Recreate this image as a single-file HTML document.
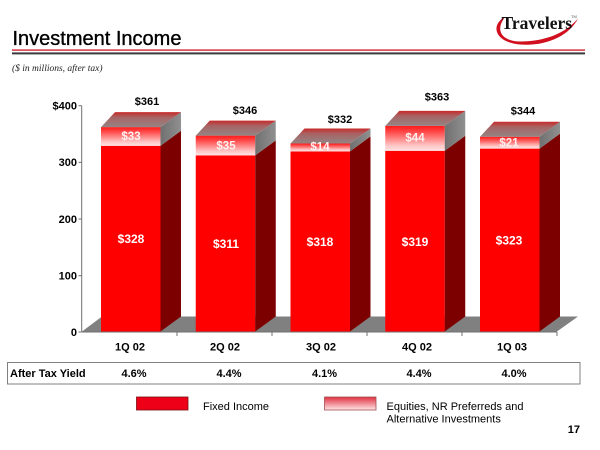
<!DOCTYPE html>
<html>
<head>
<meta charset="utf-8">
<style>
html,body{margin:0;padding:0;background:#fff;}
body{width:600px;height:450px;overflow:hidden;position:relative;}
svg{position:absolute;left:0;top:0;}
</style>
</head>
<body>
<svg width="600" height="450" viewBox="0 0 600 450" xmlns="http://www.w3.org/2000/svg">
<defs>
  <linearGradient id="eqFront" x1="0" y1="0" x2="0" y2="1">
    <stop offset="0" stop-color="#ff1a1a"/>
    <stop offset="0.25" stop-color="#ff4a4a"/>
    <stop offset="0.8" stop-color="#ffc8c8"/>
    <stop offset="1" stop-color="#ffe2e2"/>
  </linearGradient>
  <linearGradient id="eqTop" x1="0" y1="0" x2="0" y2="1">
    <stop offset="0" stop-color="#c82a2a"/>
    <stop offset="0.35" stop-color="#a86464"/>
    <stop offset="1" stop-color="#948484"/>
  </linearGradient>
  <linearGradient id="eqSide" x1="0" y1="0" x2="1" y2="0">
    <stop offset="0" stop-color="#707070"/>
    <stop offset="1" stop-color="#909090"/>
  </linearGradient>
  <linearGradient id="legEq" x1="0" y1="0" x2="0" y2="1">
    <stop offset="0" stop-color="#e03040"/>
    <stop offset="1" stop-color="#ffe6e6"/>
  </linearGradient>
</defs>

<!-- Title -->
<text x="12.5" y="45" font-family="Liberation Sans, Arial, sans-serif" font-size="20" fill="#000" stroke="#000" stroke-width="0.35">Investment Income</text>
<rect x="12" y="49.3" width="573" height="1.6" fill="#d8404e"/>
<rect x="12" y="52.4" width="573" height="2" fill="#3a3a3a"/>
<text x="12" y="71" font-family="Liberation Serif, serif" font-style="italic" font-size="9.5" fill="#222">($ in millions, after tax)</text>

<!-- Logo -->
<path d="M505 17 C491 24, 493 42, 520 44.5 C546 46.5, 569 36, 578 18.5 C566 33, 545 41.5, 520 41.5 C501 41, 495 30, 505 17 Z" fill="#d0101e"/>
<text x="501.5" y="29" font-family="Liberation Serif, serif" font-weight="bold" font-size="17.5" fill="#111">Travelers</text>
<text x="571" y="18" font-family="Liberation Sans, sans-serif" font-size="4" fill="#555">TM</text>

<!-- Floor -->
<polygon points="82,331.5 102,316.5 578,316.5 557,331.5" fill="#808080"/>

<!-- Bars -->
<g>
<rect x="101" y="145.8" width="59.5" height="185.7" fill="#ff0000"/>
<polygon points="160.5,145.8 181,130.8 181,316.5 160.5,331.5" fill="#7d0000"/>
<rect x="101" y="127.1" width="59.5" height="18.7" fill="url(#eqFront)"/>
<polygon points="160.5,127.1 181,112.1 181,130.8 160.5,145.8" fill="url(#eqSide)"/>
<polygon points="101,127.1 115,112.1 181,112.1 160.5,127.1" fill="url(#eqTop)"/>

<rect x="195.75" y="155.4" width="59.5" height="176.1" fill="#ff0000"/>
<polygon points="255.25,155.4 275.75,140.4 275.75,316.5 255.25,331.5" fill="#7d0000"/>
<rect x="195.75" y="135.6" width="59.5" height="19.8" fill="url(#eqFront)"/>
<polygon points="255.25,135.6 275.75,120.6 275.75,140.4 255.25,155.4" fill="url(#eqSide)"/>
<polygon points="195.75,135.6 209.75,120.6 275.75,120.6 255.25,135.6" fill="url(#eqTop)"/>

<rect x="290.5" y="151.4" width="59.5" height="180.1" fill="#ff0000"/>
<polygon points="350,151.4 370.5,136.4 370.5,316.5 350,331.5" fill="#7d0000"/>
<rect x="290.5" y="143.5" width="59.5" height="7.9" fill="url(#eqFront)"/>
<polygon points="350,143.5 370.5,128.5 370.5,136.4 350,151.4" fill="url(#eqSide)"/>
<polygon points="290.5,143.5 304.5,128.5 370.5,128.5 350,143.5" fill="url(#eqTop)"/>

<rect x="385.25" y="150.8" width="59.5" height="180.7" fill="#ff0000"/>
<polygon points="444.75,150.8 465.25,135.8 465.25,316.5 444.75,331.5" fill="#7d0000"/>
<rect x="385.25" y="125.9" width="59.5" height="24.9" fill="url(#eqFront)"/>
<polygon points="444.75,125.9 465.25,110.9 465.25,135.8 444.75,150.8" fill="url(#eqSide)"/>
<polygon points="385.25,125.9 399.25,110.9 465.25,110.9 444.75,125.9" fill="url(#eqTop)"/>

<rect x="480" y="148.6" width="59.5" height="182.9" fill="#ff0000"/>
<polygon points="539.5,148.6 560,133.6 560,316.5 539.5,331.5" fill="#7d0000"/>
<rect x="480" y="136.7" width="59.5" height="11.9" fill="url(#eqFront)"/>
<polygon points="539.5,136.7 560,121.7 560,133.6 539.5,148.6" fill="url(#eqSide)"/>
<polygon points="480,136.7 494,121.7 560,121.7 539.5,136.7" fill="url(#eqTop)"/>
</g>

<!-- Axes -->
<g stroke="#707070" stroke-width="1" fill="none">
  <line x1="81.7" y1="105.7" x2="81.7" y2="332"/>
  <line x1="78.5" y1="105.7" x2="81.7" y2="105.7"/>
  <line x1="78.5" y1="162.3" x2="81.7" y2="162.3"/>
  <line x1="78.5" y1="219" x2="81.7" y2="219"/>
  <line x1="78.5" y1="275.7" x2="81.7" y2="275.7"/>
  <line x1="78.5" y1="332" x2="81.7" y2="332"/>
  <line x1="81.7" y1="332" x2="557" y2="332"/>
  <line x1="177" y1="332" x2="177" y2="336"/>
  <line x1="272" y1="332" x2="272" y2="336"/>
  <line x1="367" y1="332" x2="367" y2="336"/>
  <line x1="462" y1="332" x2="462" y2="336"/>
  <line x1="557" y1="332" x2="557" y2="336"/>
</g>

<g font-family="Liberation Sans, Arial, sans-serif" font-weight="bold" font-size="11" fill="#000">
  <text x="77" y="109.6" text-anchor="end">$400</text>
  <text x="77" y="166.2" text-anchor="end">300</text>
  <text x="77" y="222.9" text-anchor="end">200</text>
  <text x="77" y="279.6" text-anchor="end">100</text>
  <text x="77" y="335.9" text-anchor="end">0</text>

  <text x="130" y="350.5" text-anchor="middle">1Q 02</text>
  <text x="225" y="350.5" text-anchor="middle">2Q 02</text>
  <text x="321" y="350.5" text-anchor="middle">3Q 02</text>
  <text x="417" y="350.5" text-anchor="middle">4Q 02</text>
  <text x="512" y="350.5" text-anchor="middle">1Q 03</text>

  <text x="147" y="105" text-anchor="middle">$361</text>
  <text x="245" y="114" text-anchor="middle">$346</text>
  <text x="340" y="123" text-anchor="middle">$332</text>
  <text x="437" y="100.7" text-anchor="middle">$363</text>
  <text x="523" y="114.7" text-anchor="middle">$344</text>
</g>

<g font-family="Liberation Sans, Arial, sans-serif" font-weight="bold" font-size="12" fill="#fff">
  <text x="131" y="243" text-anchor="middle">$328</text>
  <text x="226" y="248" text-anchor="middle">$311</text>
  <text x="320" y="246" text-anchor="middle">$318</text>
  <text x="415" y="246" text-anchor="middle">$319</text>
  <text x="509" y="244.5" text-anchor="middle">$323</text>
</g>
<g font-family="Liberation Sans, Arial, sans-serif" font-weight="bold" font-size="11.5" fill="#fff0f0">
  <text x="131" y="140" text-anchor="middle">$33</text>
  <text x="226" y="149.5" text-anchor="middle">$35</text>
  <text x="320" y="150.3" text-anchor="middle">$14</text>
  <text x="415" y="141.5" text-anchor="middle">$44</text>
  <text x="509" y="146.5" text-anchor="middle">$21</text>
</g>

<!-- Yield table -->
<rect x="7.5" y="362.5" width="572.5" height="21.5" fill="#fff" stroke="#808080" stroke-width="1"/>
<g font-family="Liberation Sans, Arial, sans-serif" font-weight="bold" font-size="11" fill="#000">
  <text x="10" y="377">After Tax Yield</text>
  <text x="134" y="377" text-anchor="middle">4.6%</text>
  <text x="229" y="377" text-anchor="middle">4.4%</text>
  <text x="324.5" y="377" text-anchor="middle">4.1%</text>
  <text x="419" y="377" text-anchor="middle">4.4%</text>
  <text x="514" y="377" text-anchor="middle">4.0%</text>
</g>

<!-- Legend -->
<rect x="136.5" y="397" width="51.5" height="13" fill="#ee0018" stroke="#7a1010" stroke-width="0.8"/>
<rect x="324.5" y="397" width="51.5" height="13" fill="url(#legEq)" stroke="#a05050" stroke-width="0.8"/>
<g font-family="Liberation Sans, Arial, sans-serif" font-size="11" fill="#000">
  <text x="203" y="410">Fixed Income</text>
  <text x="386.5" y="410">Equities, NR Preferreds and</text>
  <text x="386.5" y="422.3">Alternative Investments</text>
</g>
<text x="580" y="433" text-anchor="end" font-family="Liberation Sans, Arial, sans-serif" font-weight="bold" font-size="11" fill="#000">17</text>
</svg>
</body>
</html>
